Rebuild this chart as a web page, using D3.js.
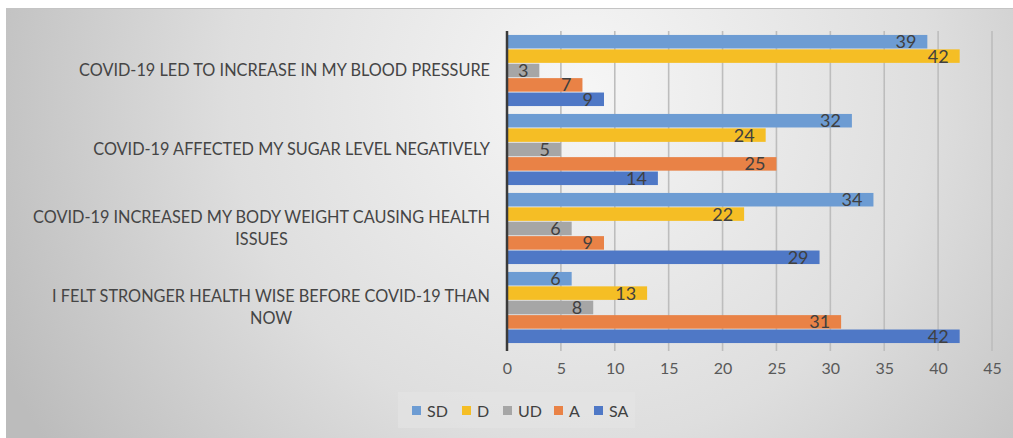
<!DOCTYPE html>
<html>
<head>
<meta charset="utf-8">
<script src="https://cdn.jsdelivr.net/npm/d3@7"></script>
<style>
  html, body { margin: 0; padding: 0; background: #ffffff; }
  svg { display: block; }
  text { font-family: Lato, "Open Sans", sans-serif; }
</style>
</head>
<body>
<svg id="chart" width="1013" height="438"></svg>
<script>
// Survey statements (top to bottom) and response counts per Likert level
const categories = [
  "COVID-19 LED TO INCREASE IN MY BLOOD PRESSURE",
  "COVID-19 AFFECTED MY SUGAR LEVEL NEGATIVELY",
  "COVID-19 INCREASED MY BODY WEIGHT CAUSING HEALTH ISSUES",
  "I FELT STRONGER HEALTH WISE BEFORE COVID-19 THAN NOW"
];
const seriesNames = ["SD", "D", "UD", "A", "SA"];
const SD = [39, 32, 34, 6];
const D  = [42, 24, 22, 13];
const UD = [3, 5, 6, 8];
const A  = [7, 25, 9, 31];
const SA = [9, 14, 29, 42];
const xTicks = [0, 5, 10, 15, 20, 25, 30, 35, 40, 45];

const seriesValues = { SD, D, UD, A, SA };
const colors = {
  SD: "#6d9cd3",
  D:  "#f5be25",
  UD: "#a6a6a6",
  A:  "#e98246",
  SA: "#4f78c6"
};

const svg = d3.select("#chart");
const W = 1013, H = 438;

// Chart area background: soft grey radial wash
const defs = svg.append("defs");
const grad = defs.append("radialGradient")
  .attr("id", "bg")
  .attr("gradientUnits", "userSpaceOnUse")
  .attr("cx", 580).attr("cy", 90).attr("r", 640);
grad.append("stop").attr("offset", 0).attr("stop-color", "#f6f6f6");
grad.append("stop").attr("offset", 0.55).attr("stop-color", "#dedede");
grad.append("stop").attr("offset", 1).attr("stop-color", "#bcbcbc");

svg.append("rect")
  .attr("x", 6).attr("y", 8)
  .attr("width", W - 6).attr("height", H - 8)
  .attr("fill", "url(#bg)");
svg.append("line")
  .attr("x1", 6).attr("x2", W).attr("y1", 8.5).attr("y2", 8.5)
  .attr("stroke", "#c4c4c4").attr("stroke-width", 1);

// Scales
const plotTop = 31, plotBottom = 347;
const x = d3.scaleLinear().domain([0, 45]).range([507, 992]);
const y0 = d3.scaleBand()
  .domain(categories)
  .range([plotTop, plotBottom])
  .paddingInner(0.1)
  .paddingOuter(0.05);
const y1 = d3.scaleBand()
  .domain(seriesNames)
  .range([0, y0.bandwidth()])
  .paddingInner(0.06);

// Vertical gridlines
svg.append("g")
  .selectAll("line")
  .data(xTicks.slice(1))
  .join("line")
  .attr("x1", d => x(d)).attr("x2", d => x(d))
  .attr("y1", plotTop).attr("y2", plotBottom + 4)
  .attr("stroke", "#bdbdbd")
  .attr("stroke-width", 1.6);

// Bottom axis (tick labels only)
const xAxis = svg.append("g")
  .attr("transform", `translate(0,${plotBottom})`)
  .call(d3.axisBottom(x).tickValues(xTicks).tickSize(0).tickPadding(16));
xAxis.select(".domain").remove();
xAxis.selectAll("text")
  .attr("fill", "#595959")
  .style("font-size", "16px")
  .style("font-family", "Lato, sans-serif");

// Bars
const rows = categories.map((c, i) => ({
  cat: c,
  values: seriesNames.map(s => ({ key: s, value: seriesValues[s][i] }))
}));

const groups = svg.append("g")
  .selectAll("g")
  .data(rows)
  .join("g")
  .attr("transform", d => `translate(0,${y0(d.cat)})`);

groups.selectAll("rect")
  .data(d => d.values)
  .join("rect")
  .attr("x", x(0))
  .attr("y", d => y1(d.key))
  .attr("width", d => x(d.value) - x(0))
  .attr("height", y1.bandwidth())
  .attr("fill", d => colors[d.key]);

// Value labels, inside the bar end
groups.selectAll("text.val")
  .data(d => d.values)
  .join("text")
  .attr("class", "val")
  .attr("x", d => x(d.value) - 11)
  .attr("y", d => y1(d.key) + y1.bandwidth() / 2)
  .attr("dy", "0.36em")
  .attr("text-anchor", "end")
  .attr("fill", "#404040")
  .style("font-size", "18px")
  .text(d => d.value);

// Category axis line
svg.append("line")
  .attr("x1", x(0)).attr("x2", x(0))
  .attr("y1", plotTop).attr("y2", plotBottom + 4)
  .attr("stroke", "#3a3a3a")
  .attr("stroke-width", 2.5);

// Category labels, wrapped and right-aligned against the axis
const labelRight = 490, wrapWidth = 470, lineH = 22;
const labelG = svg.append("g");
categories.forEach(cat => {
  const t = labelG.append("text")
    .attr("fill", "#454545")
    .style("font-size", "16.3px")
    .attr("text-anchor", "middle");
  const words = cat.split(" ");
  const lines = [];
  let cur = [];
  words.forEach(w => {
    const trial = cur.concat(w).join(" ");
    t.text(trial);
    if (t.node().getComputedTextLength() > wrapWidth && cur.length) {
      lines.push(cur.join(" "));
      cur = [w];
    } else {
      cur.push(w);
    }
  });
  lines.push(cur.join(" "));
  t.text(null);
  // width of the widest line decides the block position
  const widths = lines.map(l => { t.text(l); const w = t.node().getComputedTextLength(); t.text(null); return w; });
  const blockW = d3.max(widths);
  const cx = labelRight - blockW / 2;
  const cy = y0(cat) + y0.bandwidth() / 2;
  const startY = cy - (lines.length - 1) * lineH / 2;
  lines.forEach((l, i) => {
    t.append("tspan")
      .attr("x", cx)
      .attr("y", startY + i * lineH)
      .attr("dy", "0.35em")
      .text(l);
  });
});

// Legend
const legendG = svg.append("g");
legendG.append("rect")
  .attr("x", 398).attr("y", 392)
  .attr("width", 237).attr("height", 36)
  .attr("fill", "#e4e4e4").attr("opacity", 0.6);
const legendX = { SD: 412, D: 462, UD: 503, A: 554, SA: 594 };
seriesNames.forEach(s => {
  legendG.append("rect")
    .attr("x", legendX[s]).attr("y", 406)
    .attr("width", 9).attr("height", 9)
    .attr("fill", colors[s]);
  legendG.append("text")
    .attr("x", legendX[s] + 15).attr("y", 411)
    .attr("dy", "0.35em")
    .attr("fill", "#404040")
    .style("font-size", "16px")
    .text(s);
});
</script>
</body>
</html>
